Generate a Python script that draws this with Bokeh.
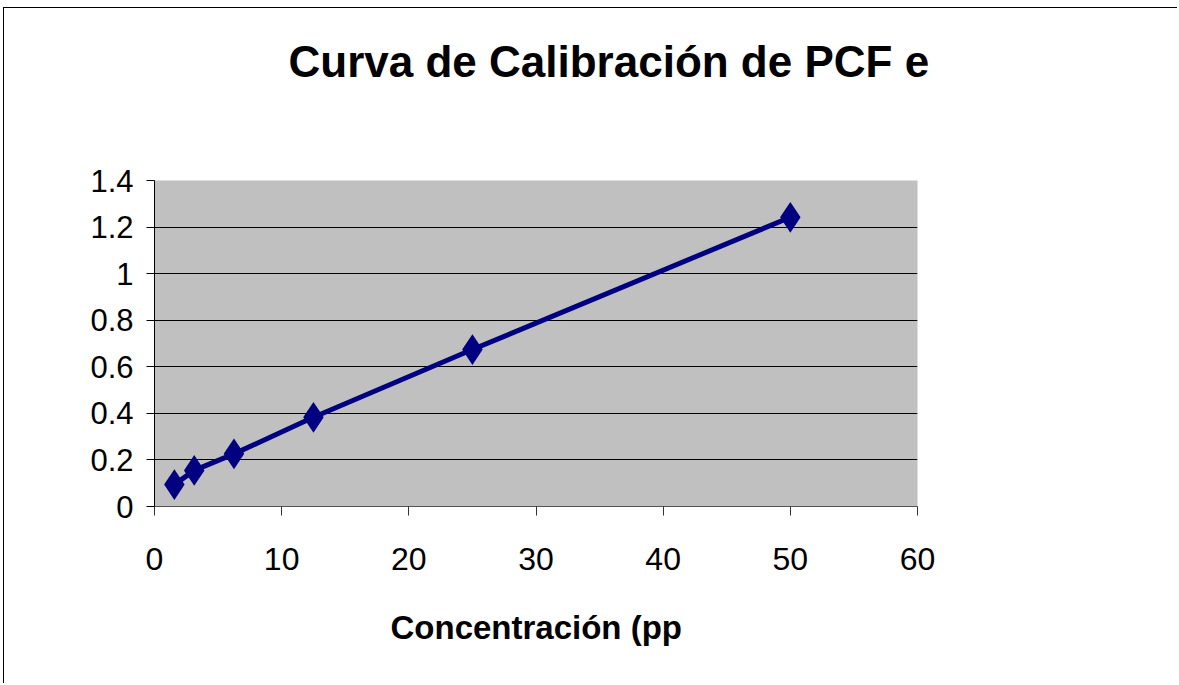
from bokeh.plotting import figure
from bokeh.models import Range1d, FixedTicker, CustomJSTickFormatter, Title
from bokeh.embed import file_html
from bokeh.resources import INLINE

# Data
conc = [1.5625, 3.125, 6.25, 12.5, 25, 50]
absorb = [0.094, 0.155, 0.226, 0.383, 0.674, 1.242]
x_ticks = [0, 10, 20, 30, 40, 50, 60]
y_ticks = [0, 0.2, 0.4, 0.6, 0.8, 1.0, 1.2, 1.4]
title_text = "Curva de Calibración de PCF e"
xlabel_text = "Concentración (pp"

FONT = "Liberation Sans"
W, H = 1174, 676
FL, FR, FT, FB = 150, 913, 172, 498

p = figure(width=W, height=H, output_backend="svg", toolbar_location=None,
           x_range=Range1d(0, 60), y_range=Range1d(0, 1.4),
           min_border_left=FL, min_border_right=W - FR,
           min_border_top=FT, min_border_bottom=H - FB)
p.styles = {"border-top": "1px solid black", "border-left": "1px solid black",
            "margin-left": "3px", "margin-top": "7px"}

p.background_fill_color = "#C0C0C0"
p.border_fill_color = "white"
p.outline_line_color = None

p.xgrid.grid_line_color = None
p.ygrid.ticker = FixedTicker(ticks=y_ticks)
p.ygrid.grid_line_color = "black"
p.ygrid.grid_line_width = 1

p.xaxis.ticker = FixedTicker(ticks=x_ticks)
p.yaxis.ticker = FixedTicker(ticks=y_ticks)
p.yaxis.formatter = CustomJSTickFormatter(code="return tick.toFixed(1).replace(/\\.0$/, '');")
p.xaxis.formatter = CustomJSTickFormatter(code="return tick.toFixed(0);")

for ax in (p.xaxis, p.yaxis):
    ax.minor_tick_line_color = None
    ax.major_tick_in = 0
    ax.major_label_text_font = FONT
    ax.major_label_text_color = "black"
p.xaxis.major_tick_out = 9
p.yaxis.major_tick_out = 8
p.xaxis.major_label_text_font_size = "32px"
p.yaxis.major_label_text_font_size = "31px"
p.xaxis.major_label_standoff = 32
p.yaxis.major_label_standoff = 13
p.xaxis.axis_line_color = "#555555"
p.xaxis.major_tick_line_color = "#333333"
p.yaxis.axis_line_color = "black"
p.yaxis.major_tick_line_color = "black"

p.line(conc, absorb, line_color="#000080", line_width=5)
p.scatter(conc, absorb, marker="diamond", size=20, fill_color="#000080",
          line_color="#000080", line_width=6, line_join="miter")

# spacer between frame and title (closest to the frame)
spacer = Title(text=" ", standoff=44, text_font=FONT, text_font_size="44px",
               text_color="white")
title = Title(text=title_text, align="left", offset=134, standoff=0,
              text_font=FONT, text_font_size="44px", text_font_style="bold",
              text_color="black")
xlab = Title(text=xlabel_text, align="left", offset=236, standoff=68,
             text_font=FONT, text_font_size="33px", text_font_style="bold",
             text_color="black")
p.add_layout(spacer, "above")
p.add_layout(title, "above")
p.add_layout(xlab, "below")

open("out.html", "w").write(file_html(p, INLINE))
